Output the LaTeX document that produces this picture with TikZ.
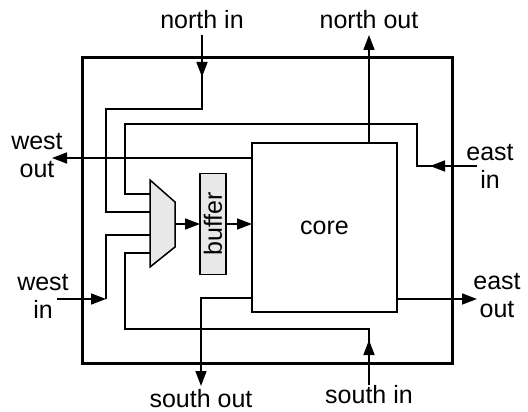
\documentclass[tikz,border=0pt]{standalone}
\usepackage{fontspec}
\setmainfont{Liberation Sans}
\usetikzlibrary{arrows.meta}
\definecolor{blockgray}{RGB}{232,232,232}
\tikzset{
  wire/.style={line width=1.5pt},
  sig/.style={wire, -{Triangle[length=15pt,width=11pt]}},
  port/.style={font=\fontsize{25}{28}\selectfont, align=center, inner sep=0pt},
  blk/.style={draw, line width=1.5pt, outer sep=0pt, font=\fontsize{25}{28}\selectfont},
}

\begin{document}
\begin{tikzpicture}[x=1pt, y=-1pt]
  \useasboundingbox (0,0) rectangle (528,412);

  % === ROUTER FRAME ===
  \draw[line width=3pt] (82,58) rectangle (452,363);

  % core, buffer and mux
  \node[blk, minimum width=145pt, minimum height=169pt] (core) at (324.5,227.5) {core};
  \node[blk, fill=blockgray, rotate=90, minimum width=101pt, minimum height=26pt,
        inner sep=0pt] (buf) at (213,224) {buffer};
  \draw[wire, fill=blockgray] (150,180) -- (175,202) -- (175,247) -- (150,267) -- cycle;
  \coordinate (mo) at (175,224);
  \coordinate (m1) at (150,194);
  \coordinate (m2) at (150,212);
  \coordinate (m3) at (150,235);
  \coordinate (m4) at (150,253);

  % port labels
  \node[port] (lnin)  at (202,20)  {north in};
  \node[port] (lnout) at (369,20)  {north out};
  \node[port] (lwout) at (37,156)  {west\\out};
  \node[port] (lein)  at (490,166) {east\\in};
  \node[port] (lwin)  at (43,296)  {west\\in};
  \node[port] (leout) at (497,296) {east\\out};
  \node[port] (lsout) at (201,399) {south out};
  \node[port] (lsin)  at (369,395) {south in};

  % free ends of the ports
  \coordinate (nin)  at (202,35);
  \coordinate (nout) at (369,35);
  \coordinate (ein)  at (477,166);
  \coordinate (wout) at (52,158);
  \coordinate (win)  at (57,299);
  \coordinate (eout) at (477,299);
  \coordinate (sin)  at (369,385);
  \coordinate (sout) at (201,386);

  % === INPUTS INTO THE MUX ===
  \draw[sig] (nin) -- (202,77);
  \draw[wire] (nin) -- (202,109) -- (106,109) -- (106,212) -- (m2);

  \draw[sig] (ein) -- (430,166);
  \draw[wire] (ein) -- (417,166) -- (417,124) -- (125,124) -- (125,194) -- (m1);

  \draw[sig] (win) -- (106,299);
  \draw[wire] (106,299) -- (106,235) -- (m3);

  \draw[sig] (sin) -- (369,340);
  \draw[wire] (sin) -- (369,329) -- (125,329) -- (125,253) -- (m4);

  % mux -> buffer -> core
  \draw[sig] (mo) -- (buf);
  \draw[sig] (buf) -- (buf -| core.west);

  % === OUTPUTS FROM THE CORE ===
  \draw[sig] (core.west |- wout) -- (wout);
  \draw[sig] (core.north -| nout) -- (nout);
  \draw[sig] (core.east |- eout) -- (eout);
  \draw[sig] (core.west |- 0,298) -- (201,298) -- (sout);

\end{tikzpicture}
\end{document}
